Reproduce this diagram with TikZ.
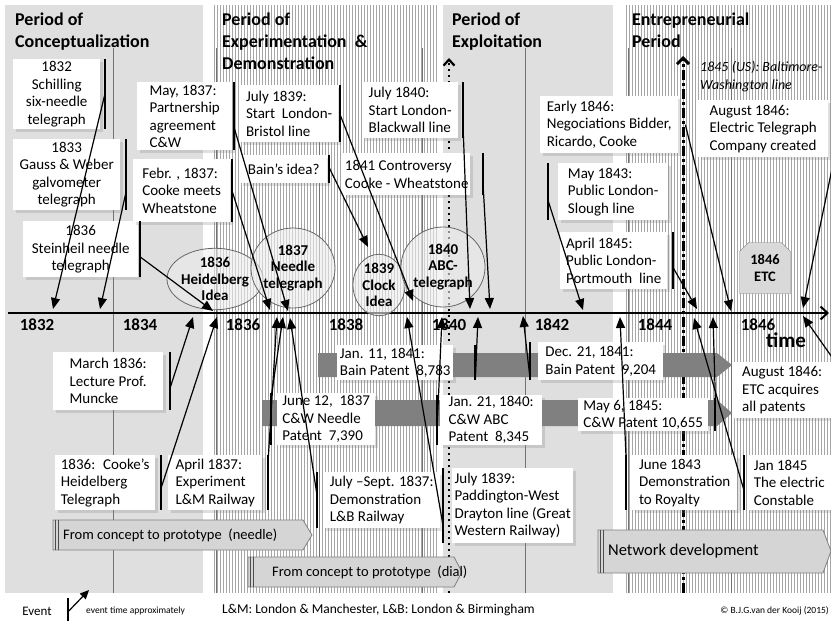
\documentclass[tikz,border=0pt]{standalone}
\usepackage{fontspec}
\setmainfont{Carlito}
\usetikzlibrary{arrows.meta,shadows,shapes.geometric,shapes.misc}

\begin{document}
\begin{tikzpicture}[x=1pt,y=-1pt,
    period/.style={anchor=north west,inner sep=0pt,align=left,
      font=\fontsize{18}{22}\selectfont\bfseries},
    evbox/.style={fill=white,anchor=north west,inner sep=1pt,align=left,
      font=\fontsize{15}{17.5}\selectfont,
      drop shadow={shadow xshift=2.5pt,shadow yshift=-2.5pt,opacity=.25}},
    evbar/.style={line width=2pt},
    evarr/.style={line width=1.2pt,-{Triangle[length=11pt,width=9pt]}},
    idea/.style={ellipse,draw=black!60,line width=.8pt,fill=gray!15,
      fill opacity=.6,text opacity=1,inner sep=0pt,align=center,
      font=\fontsize{15}{16.5}\selectfont\bfseries},
    stripe/.style={gray!70,line width=.6pt},
    yeargrid/.style={black!55,line width=.9pt},
    band/.style={fill=black!50},
    proc/.style={fill=gray!33,draw=black!50,line width=.8pt},
    procbar/.style={black!70,line width=1pt},
    proclbl/.style={anchor=west,inner sep=0pt,font=\fontsize{14.5}{16}\selectfont},
    yearlbl/.style={font=\fontsize{17}{20}\selectfont\bfseries},
  ]
  \useasboundingbox (0,0) rectangle (831,621);

  % periods: plain grey and hatched backgrounds
  \fill[gray!25] (5,5) rectangle (203,593);
  \fill[gray!25] (443,5) rectangle (613,593);
  \foreach \x in {214,217,...,437}
    \draw[stripe] (\x,5) -- (\x,593);
  \foreach \x in {626,629,...,830}
    \draw[stripe] (\x,5) -- (\x,593);
  \foreach \i in {1,...,7}
    \draw[yeargrid] (10+103*\i,48) -- (10+103*\i,593);

  \node[period] (p1) at (15,13) {Period of\\Conceptualization};
  \node[period] (p2) at (222,13) {Period of\\Experimentation \ \&\\Demonstration};
  \node[period] (p3) at (452,13) {Period of\\Exploitation};
  \node[period] (p4) at (632,13) {Entrepreneurial\\Period};

  % 1840 marker (dotted) and 1845 US line (dash-dot)
  \coordinate (abc-top) at (449,58);
  \coordinate (abc-foot) at (449,593);
  \draw[line width=2.2pt,dash pattern=on 2.5pt off 3.5pt,
    -{Straight Barb[length=6pt,width=11pt]}] (abc-foot) -- (abc-top);
  \coordinate (us-top) at (683,56);
  \coordinate (us-foot) at (683,593);
  \draw[line width=3pt,dash pattern=on 10pt off 3pt on 3pt off 3pt,
    -{Straight Barb[length=6pt,width=12pt]}] (us-foot) -- (us-top);
  \node[anchor=north west,inner sep=0pt,align=left,
    font=\fontsize{14}{18}\selectfont\itshape] (us) at (700,61)
    {1845 (US): Baltimore-\\Washington line};

  % patent periods
  \fill[band] (318,353) -- (717,353) -- (732,365) -- (717,377) -- (318,377) -- cycle;
  \fill[band] (262,400) -- (717,400) -- (732,413) -- (717,426) -- (262,426) -- cycle;

  % development stages
  \path[proc] (53,520) -- (303,520) -- (312,535) -- (303,550) -- (53,550) -- cycle;
  \draw[procbar] (55,520) -- (55,550) (58,520) -- (58,550);
  \node[proclbl] (needle) at (63,535) {From concept to prototype \ (needle)};
  \path[proc] (248,557) -- (454,557) -- (462,572) -- (454,587) -- (248,587) -- cycle;
  \draw[procbar] (250,557) -- (250,587) (253,557) -- (253,587);
  \node[proclbl] (dial) at (272,572) {From concept to prototype \ (dial)};
  \path[proc] (598,530) -- (823,530) -- (831,551) -- (823,573) -- (598,573) -- cycle;
  \draw[procbar] (600,530) -- (600,573) (603,530) -- (603,573);
  \node[proclbl,font=\fontsize{16.5}{18}\selectfont] (network) at (608,551)
    {Network development};

  % time axis
  \coordinate (t-start) at (8,313);
  \coordinate (t-end) at (829,313);
  \draw[line width=2pt,-{Straight Barb[length=7pt,width=13pt]}] (t-start) -- (t-end);
  \foreach \yr [count=\i from 0] in {1832,1834,...,1846}
    \node[yearlbl] (yr\yr) at (37+103*\i,325) {\yr};
  \node[font=\fontsize{21}{24}\selectfont\bfseries] (time) at (786,340) {time};

  % ideas and milestones
  \node[idea,minimum width=96pt,minimum height=56pt] (heid) at (215,279) {1836\\Heidelberg\\Idea};
  \node[idea,minimum width=80pt,minimum height=80pt] (ndl) at (293,268) {1837\\Needle\\telegraph};
  \node[idea,minimum width=52pt,minimum height=50pt] (clock) at (379,285) {1839\\Clock\\Idea};
  \node[idea,minimum width=80pt,minimum height=80pt] (abctel) at (443,267) {1840\\ABC-\\telegraph};
  \node[chamfered rectangle,chamfered rectangle corners={north west,north east},
    chamfered rectangle xsep=6pt,draw=black!50,fill=gray!30,minimum width=51pt,
    minimum height=51pt,align=center,font=\fontsize{14.5}{17}\selectfont\bfseries]
    (etc) at (765,268) {1846\\ETC};

  % events above the axis
  \node[evbox,align=center,minimum width=87pt,minimum height=70pt] (sch) at (13,59) {1832\\Schilling\\six-needle\\telegraph};
  \node[evbox,align=center,minimum width=107pt,minimum height=71pt] (gauss) at (13,139) {1833\\Gauss \& Weber\\galvometer\\telegraph};
  \node[evbox,align=center,minimum width=115pt,minimum height=56pt] (stein) at (23,221) {1836\\Steinheil needle\\telegraph};
  \node[evbox,minimum width=95pt,minimum height=68pt] (partner) at (137,82) {May, 1837:\\Partnership\\agreement\\C\&W};
  \node[evbox,minimum width=97pt,minimum height=63pt] (febr) at (133,159) {Febr. , 1837:\\Cooke meets\\Wheatstone};
  \node[evbox,minimum width=98pt,minimum height=57pt] (bristol) at (240,85) {July 1839:\\Start \ London-\\Bristol line};
  \node[evbox,minimum width=87pt,minimum height=28pt] (bain) at (240,155) {Bain’s idea?};
  \node[evbox,minimum width=96pt,minimum height=56pt] (blackwall) at (362,82) {July 1840:\\Start London-\\Blackwall line};
  \node[evbox,minimum width=127pt,minimum height=42pt] (contro) at (343,153) {1841 Controversy\\Cooke - Wheatstone};
  \node[evbox,minimum width=138pt,minimum height=57pt] (early) at (540,96) {Early 1846:\\Negociations Bidder,\\Ricardo, Cooke};
  \node[evbox,minimum width=110pt,minimum height=57pt] (slough) at (558,163) {May 1843:\\Public London-\\Slough line};
  \node[evbox,minimum width=107pt,minimum height=57pt] (portm) at (560,232) {April 1845:\\Public London-\\Portmouth \ line};
  \node[evbox,minimum width=130pt,minimum height=57pt] (etcco) at (698,100) {August 1846:\\Electric Telegraph\\Company created};

  % events below the axis
  \node[evbox,minimum width=110pt,minimum height=58pt] (muncke) at (53,352) {March 1836:\\Lecture Prof.\\Muncke};
  \node[evbox,minimum width=100pt,minimum height=55pt] (cookeh) at (55,455) {1836: \ Cooke’s\\Heidelberg\\Telegraph};
  \node[evbox,minimum width=94pt,minimum height=55pt] (lm) at (168,455) {April 1837:\\Experiment\\L\&M Railway};
  \node[evbox,minimum width=98pt,minimum height=52pt] (june12) at (277,393) {June 12, \ 1837\\C\&W Needle\\Patent \ 7,390};
  \node[evbox,minimum width=117pt,minimum height=56pt] (julysep) at (323,472) {July –Sept. 1837:\\Demonstration\\L\&B Railway};
  \node[evbox,minimum width=116pt,minimum height=35pt] (bainA) at (337,345) {Jan. 11, 1841:\\Bain Patent \ 8,783};
  \node[evbox,minimum width=102pt,minimum height=50pt] (abc) at (440,395) {Jan. 21, 1840:\\C\&W ABC\\Patent \ 8,345};
  \node[evbox,minimum width=121pt,minimum height=75pt] (padd) at (452,468) {July 1839:\\Paddington-West\\Drayton line (Great\\Western Railway)};
  \node[evbox,minimum width=125pt,minimum height=38pt] (bainB) at (538,342) {Dec. 21, 1841:\\Bain Patent \ 9,204};
  \node[evbox,minimum width=105pt,minimum height=55pt] (royal) at (632,455) {June 1843\\Demonstration\\to Royalty};
  \node[evbox,minimum width=130pt,minimum height=33pt] (maysix) at (578,398) {May 6, 1845:\\C\&W Patent 10,655};
  \node[evbox,minimum width=84pt,minimum height=55pt] (const) at (747,455) {Jan 1845\\The electric\\Constable};
  \node[evbox,minimum width=98pt,minimum height=56pt] (etcacq) at (733,362) {August 1846:\\ETC acquires\\all patents};

  % event bars beside the boxes
  \foreach \n/\a/\s/\p in {sch/east/5/.47, gauss/east/6/.72, stein/east/2/.64,
      partner/east/2/.68, febr/east/2/.52, bristol/east/2/.53, bain/east/2/.46,
      blackwall/east/5/.95, contro/east/13/.88, slough/west/-10/.65,
      portm/east/6/.63, muncke/east/7/.6, cookeh/east/6/.58, lm/east/6/.02,
      june12/west/-6/.1, julysep/west/-6/.41, bainA/east/22/.95, abc/west/-3/.7,
      padd/west/-9/.76, bainB/west/-8/.95, royal/west/-6/.02, maysix/east/7/.05,
      const/west/-3/.64}
    \draw[evbar] ([xshift=\s pt]\n.north \a) -- coordinate[pos=\p] (\n-e) ([xshift=\s pt]\n.south \a);
  \coordinate (early-e) at ([xshift=7pt]early.east);
  \coordinate (etcco-e) at ([xshift=6pt]etcco.south east);
  \coordinate (etcacq-e) at ([xshift=4pt]etcacq.north east);

  % where each event meets the axis
  \foreach \n/\x/\y in {sch/53/309, gauss/100/309, stein/213/311, partner/288/311,
      febr/270/310, bristol/413/301, bain/368/247, blackwall/470/309,
      contro/490/309, early/731/311, slough/583/310, portm/697/309,
      etcco/803/308, muncke/193/317, cookeh/217/317, lm/277/317,
      june12/283/317, julysep/290/318, bainA/478/317, abc/442/317,
      padd/407/317, bainB/523/316, royal/620/317, maysix/713/317,
      const/694/318, etcacq/803/316}
    \coordinate (\n-t) at (\x,\y);
  \foreach \n in {sch,gauss,stein,partner,febr,bristol,bain,blackwall,contro,
      early,slough,portm,etcco,muncke,cookeh,lm,june12,julysep,bainA,abc,
      padd,bainB,royal,maysix,const,etcacq}
    \draw[evarr] (\n-e) -- (\n-t);

  % legend and notes
  \node[font=\fontsize{13}{15}\selectfont] (ev) at (37,611) {Event};
  \coordinate (lg-top) at (68,598);
  \coordinate (lg-foot) at (68,621);
  \coordinate (lg-tip) at (89,590);
  \draw[evbar] (lg-top) -- coordinate[pos=.6] (lg-e) (lg-foot);
  \draw[line width=1.2pt,-{Triangle[length=9pt,width=8pt]}] (lg-e) -- (lg-tip);
  \node[anchor=west,inner sep=0pt,font=\fontsize{9.5}{11}\selectfont] (approx) at (86,611) {event time approximately};
  \node[anchor=west,inner sep=0pt,font=\fontsize{13.5}{15}\selectfont] (abbr) at (222,610) {L\&M: London \& Manchester, L\&B: London \& Birmingham};
  \node[anchor=east,inner sep=0pt,font=\fontsize{9.5}{11}\selectfont] (copy) at (829,611) {© B.J.G.van der Kooij (2015)};
\end{tikzpicture}
\end{document}
